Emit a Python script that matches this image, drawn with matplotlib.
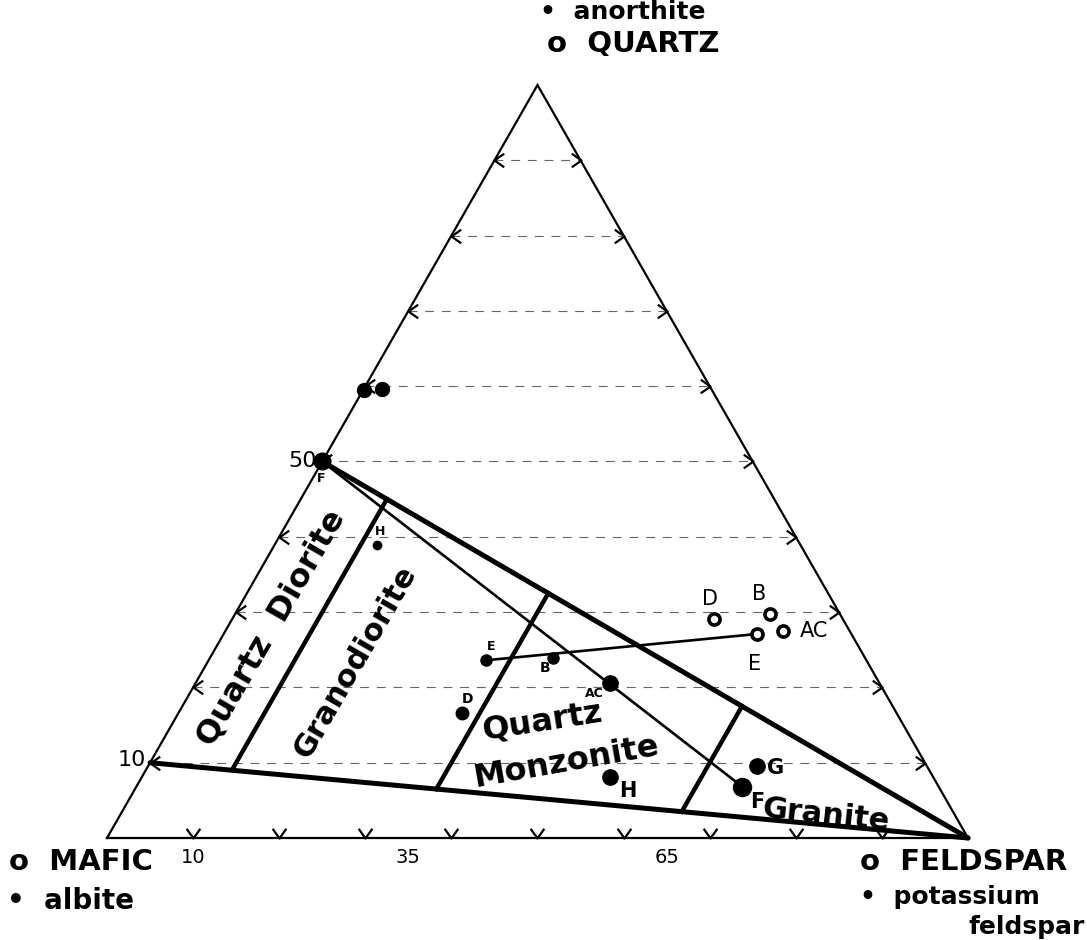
import matplotlib.pyplot as plt
import numpy as np

# compositions in percent: Q (top), M (bottom left), F (bottom right)
open_labels = ['D', 'B', 'AC', 'E']
open_q = [29.1, 29.7, 27.5, 27.1]
open_f = [56.0, 62.2, 64.8, 62.0]

fill_labels = ['E', 'B', 'AC', 'D', 'H', 'G', 'F', 'H', 'F', '', '']
fill_q = [23.6, 23.9, 20.6, 16.6, 8.1, 9.6, 6.8, 38.9, 50.0, 59.5, 59.6]
fill_f = [32.2, 39.9, 48.1, 32.9, 54.4, 70.7, 70.4, 11.9, 0.0, 0.1, 2.1]
fill_size = [8, 8, 11, 9, 11, 11, 13, 6, 12, 10, 10]

# field boundaries
upper_q = 50   # quartz on Q-M edge for upper limit line
lower_q = 10   # quartz on Q-M edge for lower limit line
f_splits = [10, 35, 65]
grid_levels = [10, 20, 30, 40, 50, 60, 70, 80, 90]


def xy(q, f):
    q = np.asarray(q, float) / 100
    f = np.asarray(f, float) / 100
    return f + q / 2, q


fig = plt.figure(figsize=(10.87, 9.4), dpi=100)
ax = fig.add_axes([0, 0, 1, 1])
ax.set_xlim(-107 / 861, 980 / 861)
ax.set_ylim(-102 / 753, 838 / 753)
ax.axis('off')

# triangle
tx, ty = xy([0, 100, 0, 0], [0, 0, 100, 0])
ax.plot(tx, ty, color='black', lw=1.6, solid_joinstyle='miter')

# dashed grid lines with arrow ticks
left_tick = [(1, 0.7), (0, 0), (1, -0.7)]
right_tick = [(-1, 0.7), (0, 0), (-1, -0.7)]
down_tick = [(-0.7, 1), (0, 0), (0.7, 1)]
for g in grid_levels:
    lx, ly = xy(g, 0)
    rx, ry = xy(g, 100 - g)
    ax.plot([lx, rx], [ly, ry], color='0.4', lw=0.8, dashes=(8, 7))
    ax.plot(lx, ly, marker=left_tick, ms=14, mfc='none', mec='black', mew=1.6)
    ax.plot(rx, ry, marker=right_tick, ms=14, mfc='none', mec='black', mew=1.6)
    bx, by = xy(0, g)
    ax.plot(bx, by, marker=down_tick, ms=14, mfc='none', mec='black', mew=1.6)

# thick limit lines
for q0 in [upper_q, lower_q]:
    x, y = xy([q0, 0], [0, 100])
    ax.plot(x, y, color='black', lw=3.6, solid_capstyle='round')

for fs in f_splits:
    qa = (100 - fs) / 2
    qb = (100 - fs) * lower_q / 100
    x, y = xy([qa, qb], [fs, fs])
    ax.plot(x, y, color='black', lw=3.2)

# tie lines
i_f, j_f = fill_labels.index('F'), 8
x, y = xy([fill_q[j_f], fill_q[i_f]], [fill_f[j_f], fill_f[i_f]])
ax.plot(x, y, color='black', lw=1.9)
x, y = xy([fill_q[0], open_q[3]], [fill_f[0], open_f[3]])
ax.plot(x, y, color='black', lw=1.9)

# points
ox, oy = xy(open_q, open_f)
ax.plot(ox, oy, 'o', ms=8, mfc='white', mec='black', mew=2.6, zorder=5)
fx, fy = xy(fill_q, fill_f)
for i in range(len(fx)):
    ax.plot(fx[i], fy[i], 'o', ms=fill_size[i], color='black', zorder=5)

# point labels
open_off = [(-3, 14), (-8, 15), (22, 0), (-2, -22)]
for i, lab in enumerate(open_labels):
    ax.annotate(lab, (ox[i], oy[i]), xytext=open_off[i], textcoords='offset points',
                ha='center', va='center', fontsize=15)

fill_off = [(4, 10), (-6, -7), (-11, -8), (4, 10), (13, -10), (13, -2), (11, -11),
            (2, 10), (-1, -12), (0, 0), (0, 0)]
fill_fs = [9, 10, 9, 10, 15, 15, 15, 9, 9, 9, 9]
for i, lab in enumerate(fill_labels):
    if lab:
        ax.annotate(lab, (fx[i], fy[i]), xytext=fill_off[i], textcoords='offset points',
                    ha='center', va='center', fontsize=fill_fs[i], fontweight='bold')

# scale numbers
qx, qy = xy(upper_q, 0)
ax.annotate('50', (qx, qy), xytext=(-4, 0), textcoords='offset points',
            ha='right', va='center', fontsize=16)
qx, qy = xy(lower_q, 0)
ax.annotate('10', (qx, qy), xytext=(-3, 2), textcoords='offset points',
            ha='right', va='center', fontsize=16)
for fs in f_splits:
    bx, by = xy(0, fs)
    ax.annotate(str(fs), (bx, by), xytext=(0, -14), textcoords='offset points',
                ha='center', va='center', fontsize=14)

# field names
ax.text(*xy(27.9, 5.2), 'Quartz  Diorite', rotation=60, ha='center', va='center',
        fontsize=23, fontweight='bold')
ax.text(*xy(23.4, 17.2), 'Granodiorite', rotation=60, ha='center', va='center',
        fontsize=22, fontweight='bold')
ax.text(*xy(15.4, 42.9), 'Quartz', rotation=9, ha='center', va='center',
        fontsize=23, fontweight='bold')
ax.text(*xy(10.0, 48.3), 'Monzonite', rotation=10, ha='center', va='center',
        fontsize=23, fontweight='bold')
ax.text(*xy(3.05, 82.0), 'Granite', rotation=-6, ha='center', va='center',
        fontsize=22, fontweight='bold')

# corner captions
fig.text(0.497, 0.987, '\u2022  anorthite', ha='left', va='center', fontsize=18, fontweight='bold')
fig.text(0.503, 0.953, 'o  QUARTZ', ha='left', va='center', fontsize=21, fontweight='bold')
fig.text(0.008, 0.083, 'o  MAFIC', ha='left', va='center', fontsize=21, fontweight='bold')
fig.text(0.006, 0.042, '\u2022  albite', ha='left', va='center', fontsize=20, fontweight='bold')
fig.text(0.791, 0.083, 'o  FELDSPAR', ha='left', va='center', fontsize=21, fontweight='bold')
fig.text(0.791, 0.046, '\u2022  potassium', ha='left', va='center', fontsize=18, fontweight='bold')
fig.text(0.998, 0.014, 'feldspar', ha='right', va='center', fontsize=18, fontweight='bold')

fig.savefig('out.png', dpi=100, facecolor='white')
